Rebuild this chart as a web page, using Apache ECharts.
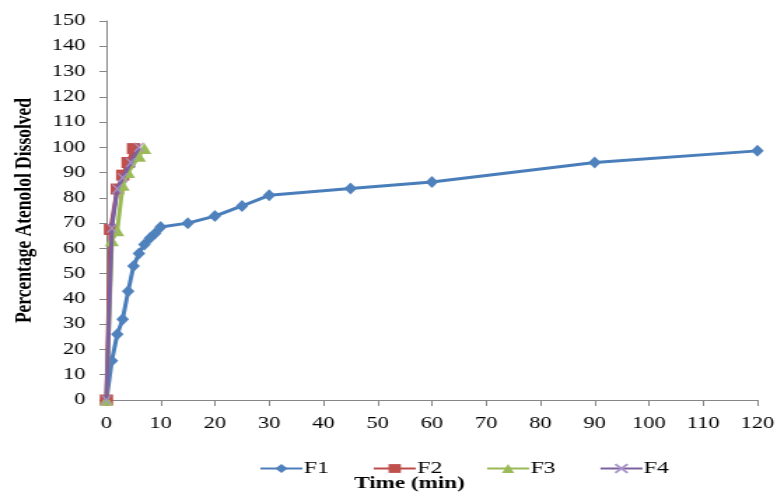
<!DOCTYPE html>
<html>
<head>
<meta charset="utf-8">
<script src="https://cdn.jsdelivr.net/npm/echarts@6/dist/echarts.min.js"></script>
<style>
html,body{margin:0;padding:0;background:#fff;overflow:hidden;}
#wrap{width:778px;height:493px;overflow:hidden;}
#chart{width:556px;height:493px;transform:scaleX(1.4);transform-origin:0 0;}
</style>
</head>
<body>
<div id="wrap"><div id="chart"></div></div>
<script>
// Time (min) and percentage dissolved for each formulation
const f1Time = [0, 1, 2, 3, 4, 5, 6, 7, 8, 9, 10, 15, 20, 25, 30, 45, 60, 90, 120];
const f1Pct  = [0, 15.5, 26, 32, 43, 53, 58, 61.5, 64, 66, 68.5, 70, 72.8, 76.8, 81, 83.7, 86.3, 94, 98.6];
const f2Time = [0, 0.75, 2, 3, 4, 5];
const f2Pct  = [0, 67.5, 83.5, 89, 94, 99.5];
const f3Time = [0, 1, 2, 3, 4, 6, 7];
const f3Pct  = [0, 63, 67, 85, 90, 96.5, 99.5];
const f4Time = [0, 1, 2, 3, 4.5, 6];
const f4Pct  = [0, 68, 83.5, 88, 94, 100];
const seriesNames = ['F1', 'F2', 'F3', 'F4'];
const xTickLabels = ['0','10','20','30','40','50','60','70','80','90','100','110','120'];
const yTickLabels = ['0','10','20','30','40','50','60','70','80','90','100','110','120','130','140','150'];

function pairs(xs, ys){ return xs.map((x,i)=>[x, ys[i]]); }

const FONT = 'Liberation Serif, Times New Roman, serif';
const chart = echarts.init(document.getElementById('chart'), null, {renderer:'canvas'});
chart.setOption({
  backgroundColor:'#ffffff',
  animation:false,
  title:{
    text:'Time (min)', left:253, top:475, padding:0,
    textStyle:{fontFamily:FONT, fontSize:16.5, fontWeight:'bold', color:'#000'}
  },
  legend:{
    data:seriesNames, left:180, top:455, itemWidth:30, itemHeight:11, itemGap:31,
    textStyle:{fontFamily:FONT, fontSize:17, color:'#000', padding:[0,0,0,-4]}
  },
  grid:{left:74.3, right:12.4, top:21, bottom:93, containLabel:false},
  xAxis:{
    type:'value', min:0, max:120, interval:10,
    axisLine:{show:true, lineStyle:{color:'#868686', width:1}},
    axisTick:{show:true, inside:false, length:6, lineStyle:{color:'#868686'}},
    splitLine:{show:false},
    axisLabel:{margin:16, fontFamily:FONT, fontSize:16, color:'#000',
      formatter:(v)=>xTickLabels[Math.round(v/10)]}
  },
  yAxis:{
    type:'value', min:0, max:150, interval:10,
    name:'Percentage Atenolol Dissolved', nameLocation:'middle', nameGap:50, nameRotate:90,
    nameTextStyle:{fontFamily:FONT, fontSize:17.5, fontWeight:'bold', color:'#000'},
    axisLine:{show:true, lineStyle:{color:'#868686', width:1}},
    axisTick:{show:true, inside:false, length:5, lineStyle:{color:'#868686'}},
    splitLine:{show:false},
    axisLabel:{margin:15, fontFamily:FONT, fontSize:16, color:'#000',
      formatter:(v)=>yTickLabels[Math.round(v/10)]}
  },
  series:[
    {name:'F1', type:'line', data:pairs(f1Time,f1Pct), symbol:'diamond', symbolSize:[9,12],
      lineStyle:{color:'#4A7EBB', width:3}, itemStyle:{color:'#4F81BD'}, z:2},
    {name:'F2', type:'line', data:pairs(f2Time,f2Pct), symbol:'rect', symbolSize:[9.5,11],
      lineStyle:{color:'#BE4B48', width:3}, itemStyle:{color:'#C0504D'}, z:3},
    {name:'F3', type:'line', data:pairs(f3Time,f3Pct), symbol:'triangle', symbolSize:[10,11],
      lineStyle:{color:'#98B954', width:3}, itemStyle:{color:'#9BBB59'}, z:4},
    {name:'F4', type:'line', data:pairs(f4Time,f4Pct), symbol:'path://M0,0L10,10M10,0L0,10', symbolSize:[6.5,9],
      lineStyle:{color:'#7D60A0', width:3}, itemStyle:{color:'#8064A2', borderColor:'#A995C9', borderWidth:1.2}, z:5}
  ]
});
</script>
</body>
</html>
